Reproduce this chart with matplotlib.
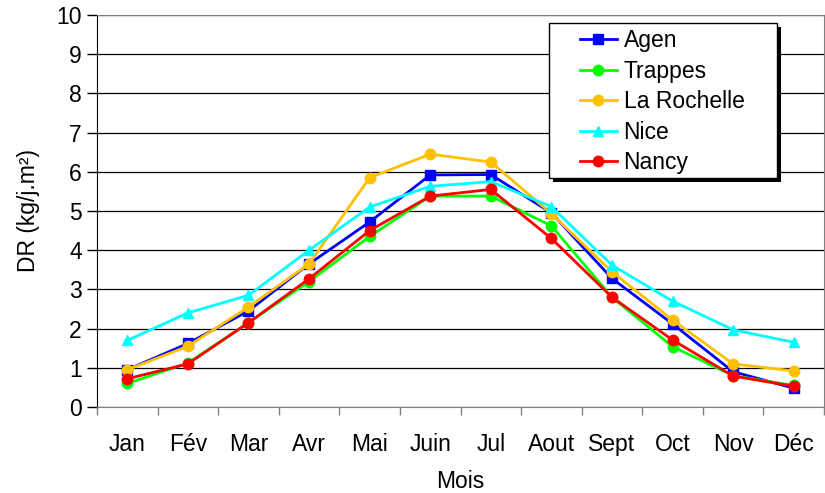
import numpy as np
import matplotlib.pyplot as plt
from matplotlib.patches import Rectangle

plt.rcParams['font.family'] = ['Liberation Sans', 'DejaVu Sans']

mois = ['Jan', 'Fév', 'Mar', 'Avr', 'Mai', 'Juin', 'Jul', 'Aout', 'Sept', 'Oct', 'Nov', 'Déc']

agen = [0.95, 1.62, 2.45, 3.65, 4.72, 5.92, 5.93, 4.95, 3.28, 2.12, 0.90, 0.48]
trappes = [0.60, 1.12, 2.15, 3.20, 4.35, 5.38, 5.38, 4.62, 2.80, 1.54, 0.80, 0.55]
la_rochelle = [0.95, 1.55, 2.55, 3.65, 5.85, 6.45, 6.25, 4.93, 3.45, 2.22, 1.10, 0.92]
nice = [1.70, 2.40, 2.85, 4.00, 5.10, 5.63, 5.75, 5.11, 3.62, 2.70, 1.97, 1.65]
nancy = [0.72, 1.10, 2.15, 3.27, 4.50, 5.38, 5.55, 4.30, 2.80, 1.71, 0.79, 0.53]

series = [
    ('Agen', agen, '#0000FF', 's'),
    ('Trappes', trappes, '#00FF00', 'o'),
    ('La Rochelle', la_rochelle, '#FFC000', 'o'),
    ('Nice', nice, '#00FFFF', '^'),
    ('Nancy', nancy, '#FF0000', 'o'),
]

W, H = 825, 493
fig = plt.figure(figsize=(W / 100, H / 100), dpi=100)
ax = fig.add_axes([97 / W, 86 / H, 727 / W, 392 / H])

x = np.arange(len(mois))
for name, vals, col, mk in series:
    ax.plot(x, vals, color=col, marker=mk, markersize=7.5, linewidth=2.0, label=name)

ax.set_xlim(-0.5, len(mois) - 0.5)
ax.set_ylim(0, 10)
ax.set_yticks(range(0, 11))
ax.yaxis.grid(True, color='black', linewidth=0.9)
ax.set_axisbelow(True)

ax.set_xticks(x)
ax.set_xticklabels(mois)
ax.set_xticks(np.arange(-0.5, len(mois), 1), minor=True)
ax.tick_params(axis='x', which='major', length=0, pad=19, labelsize=16.5)
ax.tick_params(axis='x', which='minor', length=6, color='#808080', width=1)
ax.tick_params(axis='y', length=7, width=1, labelsize=16.5, pad=4)

for side in ['top', 'right', 'bottom']:
    ax.spines[side].set_color('#808080')
ax.spines['left'].set_color('black')

ax.set_xlabel('Mois', fontsize=16.5, labelpad=10)
ax.set_ylabel('DR (kg/j.m²)', fontsize=16.5, labelpad=12)

# légende sans cadre, cadre + ombre dessinés à part
leg = ax.legend(loc='upper left', bbox_to_anchor=(580 / W, 1 - 29 / H),
                bbox_transform=fig.transFigure, fontsize=16.5, frameon=False,
                handlelength=1.6, labelspacing=0.33, borderpad=0, handletextpad=0.3,
                borderaxespad=0)
leg.set_zorder(6)

x0, y0, x1, y1 = 549, 23, 777, 178
shadow = Rectangle(((x0 + 4) / W, 1 - (y1 + 4) / H), (x1 - x0) / W, (y1 - y0) / H,
                   transform=fig.transFigure, facecolor='black', zorder=4, clip_on=False)
frame = Rectangle((x0 / W, 1 - y1 / H), (x1 - x0) / W, (y1 - y0) / H,
                  transform=fig.transFigure, facecolor='white', edgecolor='black',
                  linewidth=1.0, zorder=5, clip_on=False)
ax.add_patch(shadow)
ax.add_patch(frame)

fig.savefig('out.png', dpi=100)
